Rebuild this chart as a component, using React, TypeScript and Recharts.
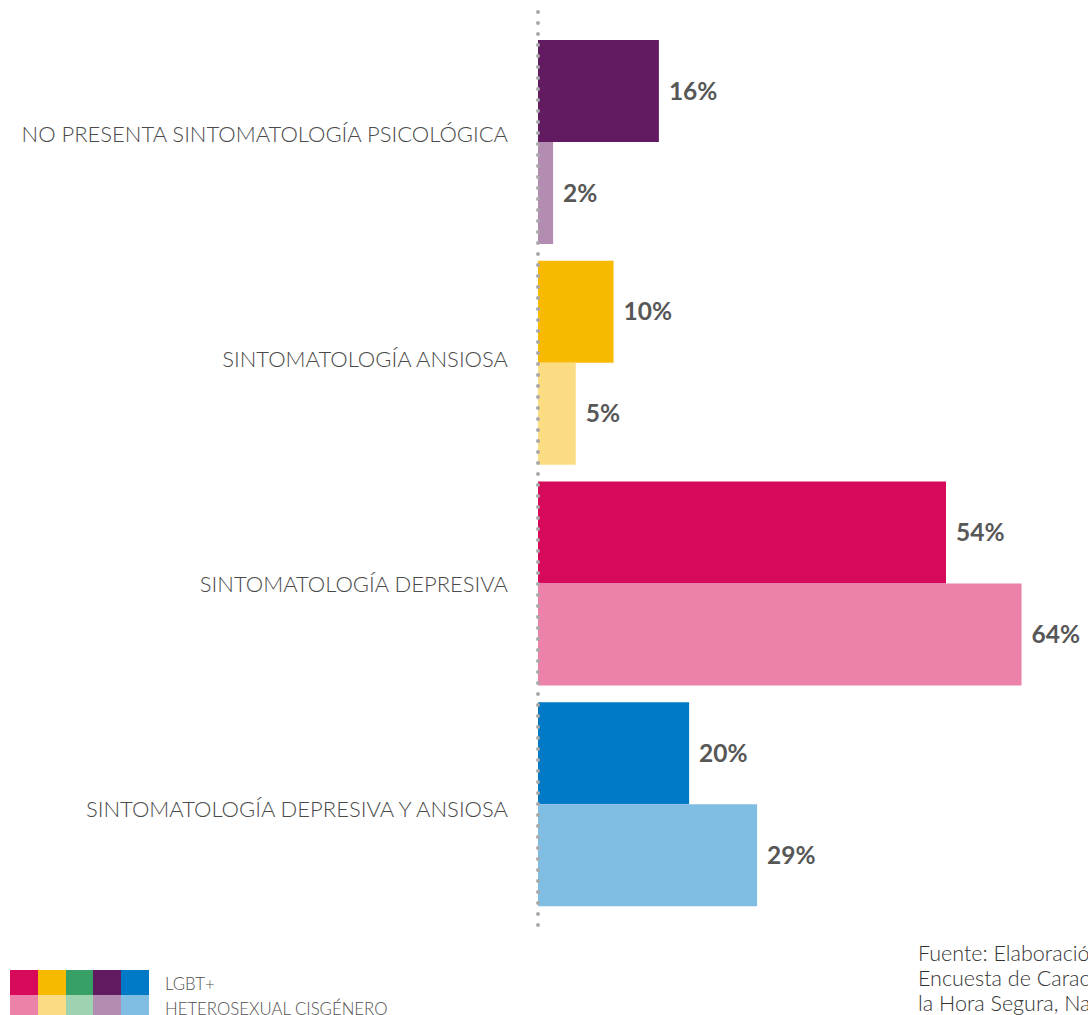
import React from "react";
import { BarChart, Bar, XAxis, YAxis, Cell, LabelList } from "recharts";

const categories = [
  "NO PRESENTA SINTOMATOLOGÍA PSICOLÓGICA",
  "SINTOMATOLOGÍA ANSIOSA",
  "SINTOMATOLOGÍA DEPRESIVA",
  "SINTOMATOLOGÍA DEPRESIVA Y ANSIOSA",
];
const lgbt = [16, 10, 54, 20];
const hetero = [2, 5, 64, 29];
const lgbtColors = ["#621a61", "#f8ba00", "#d6095a", "#0079c6"];
const heteroColors = ["#b28cb1", "#fbdc82", "#ec82a9", "#80bde2"];
const legendTop = ["#d6095a", "#f8ba00", "#36a067", "#621a61", "#0079c6"];
const legendBottom = ["#ec82a9", "#fbdc82", "#9dd3b0", "#b28cb1", "#80bde2"];
const seriesNames = ["LGBT+", "HETEROSEXUAL CISGÉNERO"];
const sourceLines = [
  "Fuente: Elaboración propia con base en la",
  "Encuesta de Caracterización de Personas LGBT+",
  "la Hora Segura, Nación LGBT+",
];

const data = categories.map((c, i) => ({ name: c, lgbt: lgbt[i], hetero: hetero[i] }));

const font = "Lato, 'Open Sans', sans-serif";

// category labels sit a little off the bar-pair centres in the original
function CategoryTick(props: any) {
  const { x, y, payload, index } = props;
  const shift = (index - 2) * 4.3;
  return (
    <text
      x={x}
      y={y + shift}
      dy="0.355em"
      textAnchor="end"
      fill="#4a4a4a"
      fontSize={22}
      fontFamily={font}
      fontWeight={300}
    >
      {payload.value}
    </text>
  );
}

export default function App() {
  return (
    <div
      style={{
        position: "absolute",
        left: 0,
        top: 0,
        width: 1088,
        height: 1015,
        overflow: "hidden",
        background: "#fff",
        fontFamily: font,
      }}
    >
      <BarChart
        layout="vertical"
        width={1088}
        height={940}
        data={data}
        margin={{ top: 12, right: 6, left: 0, bottom: 10 }}
        barGap={0}
        barSize={102}
      >
        <XAxis type="number" domain={[0, 72]} hide />
        <YAxis
          type="category"
          dataKey="name"
          width={538}
          padding={{ top: 20, bottom: 15 }}
          tickLine={false}
          tickSize={0}
          tickMargin={30}
          axisLine={{
            stroke: "#a9a9a9",
            strokeWidth: 4,
            strokeDasharray: "0 11",
            strokeLinecap: "round",
          }}
          tick={<CategoryTick />}
        />
        <Bar dataKey="lgbt" isAnimationActive={false}>
          {data.map((_, i) => (
            <Cell key={i} fill={lgbtColors[i]} />
          ))}
          <LabelList
            dataKey="lgbt"
            position="right"
            offset={10}
            formatter={(v: number) => `${v}%`}
            style={{ fill: "#575757", fontSize: 24.5, fontWeight: 700, fontFamily: font }}
          />
        </Bar>
        <Bar dataKey="hetero" isAnimationActive={false}>
          {data.map((_, i) => (
            <Cell key={i} fill={heteroColors[i]} />
          ))}
          <LabelList
            dataKey="hetero"
            position="right"
            offset={10}
            formatter={(v: number) => `${v}%`}
            style={{ fill: "#575757", fontSize: 24.5, fontWeight: 700, fontFamily: font }}
          />
        </Bar>
      </BarChart>

      {/* legend */}
      <div style={{ position: "absolute", left: 10, top: 970 }}>
        {[legendTop, legendBottom].map((row, r) => (
          <div key={r} style={{ display: "flex" }}>
            {row.map((c) => (
              <div key={c} style={{ width: 27.8, height: 25, background: c }} />
            ))}
          </div>
        ))}
      </div>
      <div
        style={{
          position: "absolute",
          left: 165,
          top: 971,
          fontSize: 16.8,
          lineHeight: "25px",
          color: "#4f4f4f",
          fontWeight: 300,
        }}
      >
        {seriesNames.map((s) => (
          <div key={s}>{s}</div>
        ))}
      </div>

      {/* source */}
      <div
        style={{
          position: "absolute",
          left: 918,
          top: 941,
          fontSize: 21.5,
          lineHeight: "25px",
          color: "#333",
          whiteSpace: "nowrap",
          fontWeight: 300,
        }}
      >
        {sourceLines.map((s) => (
          <div key={s}>{s}</div>
        ))}
      </div>
    </div>
  );
}
